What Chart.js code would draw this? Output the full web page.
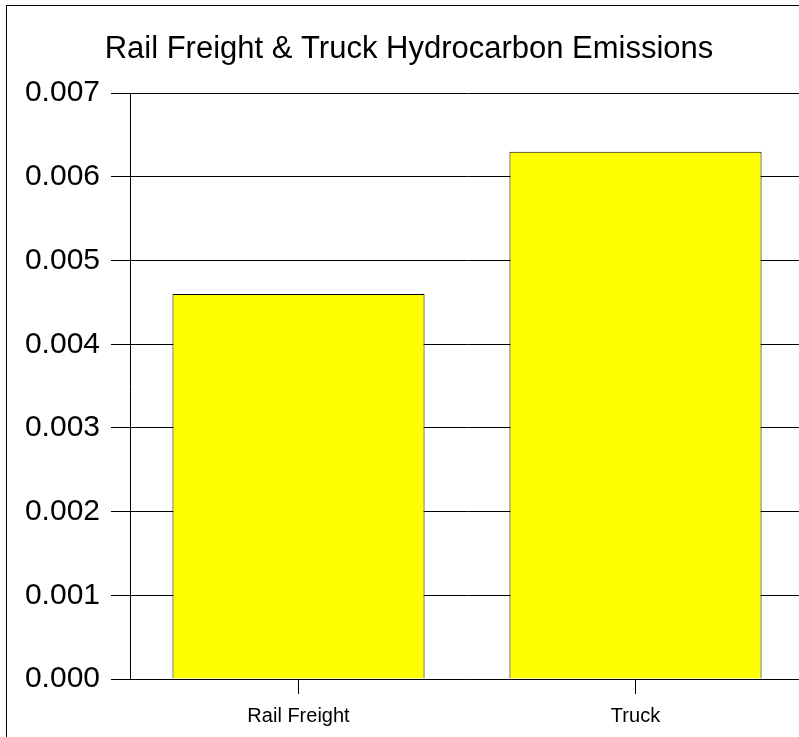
<!DOCTYPE html>
<html lang="en">
<head>
  <title>Hydrocarbon Emissions</title>
  <style>
    body { margin: 0; overflow: hidden; background: #fff; }
  </style>
</head>

<body>
  <canvas id="myChart" width="812" height="748"></canvas>
  <script src="https://cdn.jsdelivr.net/npm/chart.js"></script>
  <script>
      const categories = ['Rail Freight', 'Truck']
      const emissions = [0.0046, 0.0063]
      const yTicks = [0, 0.001, 0.002, 0.003, 0.004, 0.005, 0.006, 0.007]

      const fontFamily = '"Liberation Sans", Arial, sans-serif'

      // outer frame of the figure
      const framePlugin = {
        id: 'frame',
        afterDraw(chart) {
          const c = chart.ctx
          c.save()
          c.strokeStyle = '#000'
          c.lineWidth = 1
          c.strokeRect(6.5, 5.5, 1000, 1000)
          c.restore()
        }
      }

      const ctx = document.getElementById('myChart').getContext('2d');
      const myChart = new Chart(ctx, {
        type: 'bar',
        data: {
          labels: categories,
          datasets: [{
            label: 'Hydrocarbon Emissions',
            data: emissions,
            backgroundColor: '#ffff00',
            borderColor: '#000',
            borderWidth: 1,
            categoryPercentage: 1,
            barPercentage: 0.748
          }]
        },
        options: {
          responsive: false,
          animation: false,
          layout: { padding: { left: 14, right: 8, top: 0, bottom: 10 } },
          plugins: {
            legend: { display: false },
            tooltip: { enabled: false },
            title: {
              display: true,
              text: 'Rail Freight & Truck Hydrocarbon Emissions',
              color: '#000',
              font: { family: fontFamily, size: 31, weight: 'normal' },
              padding: { top: 31, bottom: 25 }
            }
          },
          scales: {
            x: {
              grid: {
                display: true,
                drawOnChartArea: false,
                drawTicks: true,
                tickLength: 15,
                offset: false,
                color: '#000'
              },
              border: { display: true, color: '#000' },
              ticks: {
                color: '#000',
                padding: 10,
                font: { family: fontFamily, size: 20 }
              }
            },
            y: {
              min: 0,
              max: 0.007,
              afterFit(scale) { scale.width = 116 },
              afterBuildTicks(scale) {
                scale.ticks = yTicks.map(v => ({ value: v }))
              },
              grid: {
                color: '#000',
                tickLength: 19
              },
              border: { display: true, color: '#000' },
              ticks: {
                color: '#000',
                padding: 11,
                font: { family: fontFamily, size: 30 },
                callback: value => value.toFixed(3)
              }
            }
          }
        },
        plugins: [framePlugin]
      });
  </script>
</body>

</html>
